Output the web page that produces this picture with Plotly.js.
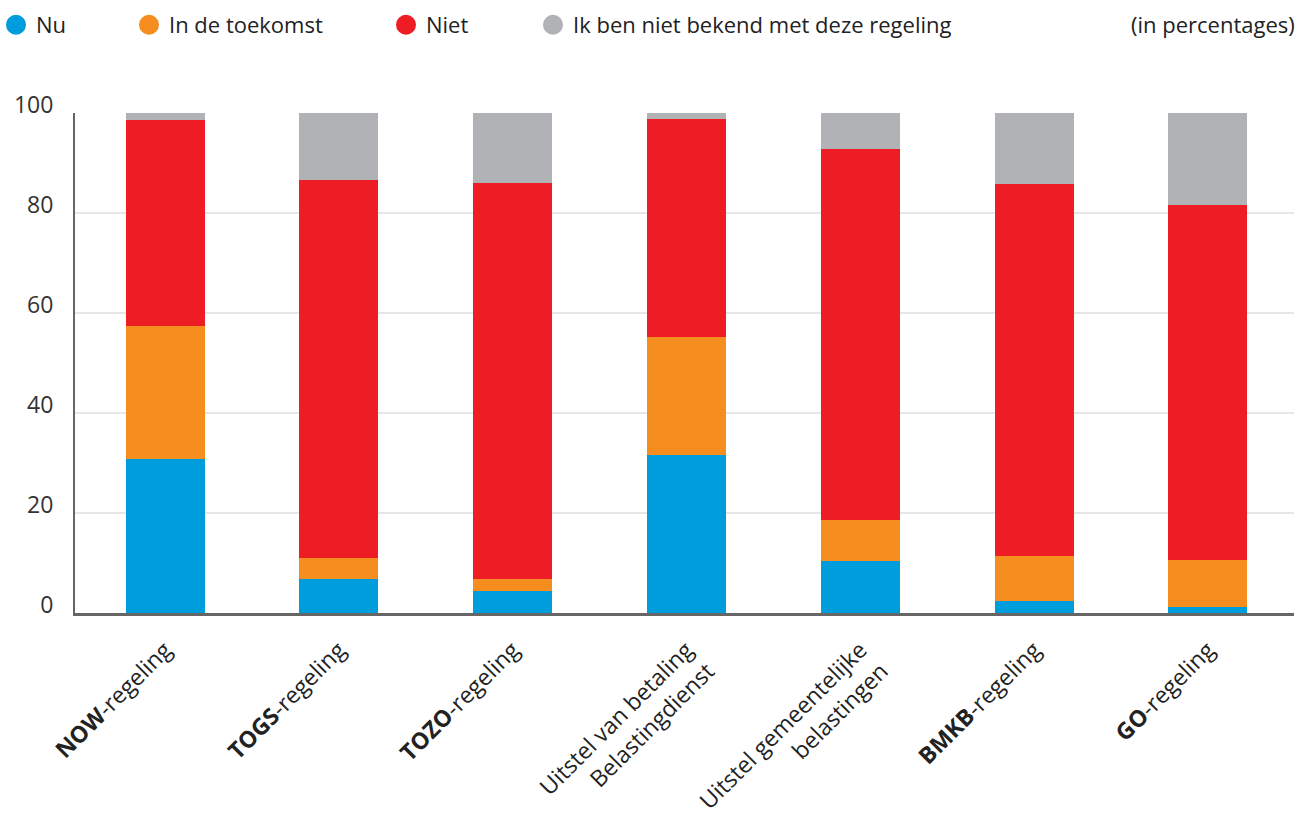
<!DOCTYPE html>
<html>
<head>
<meta charset="utf-8">
<script src="https://cdn.plot.ly/plotly-3.0.1.min.js"></script>
<style>html,body{margin:0;padding:0;background:#fff;}#chart{width:1308px;height:816px;}</style>
</head>
<body>
<div id="chart"></div>
<script>
const categories = [
  "<b>NOW</b>-regeling",
  "<b>TOGS</b>-regeling",
  "<b>TOZO</b>-regeling",
  "Uitstel van betaling<br>Belastingdienst",
  "Uitstel gemeentelijke<br>belastingen",
  "<b>BMKB</b>-regeling",
  "<b>GO</b>-regeling"
];
const nu        = [30.8, 6.8, 4.4, 31.6, 10.4, 2.4, 1.2];
const toekomst  = [26.6, 4.2, 2.4, 23.6, 8.2, 9.1, 9.4];
const niet      = [41.2, 75.6, 79.2, 43.6, 74.2, 74.3, 71.0];
const onbekend  = [1.4, 13.4, 14.0, 1.2, 7.2, 14.2, 18.4];
const seriesNames = ["Nu", "In de toekomst", "Niet", "Ik ben niet bekend met deze regeling"];
const yTicks = [0, 20, 40, 60, 80, 100];
const unitNote = "(in percentages)";

const colors = ["#009ddc", "#f68d1f", "#ee1d25", "#b1b2b5"];
const seriesVals = [nu, toekomst, niet, onbekend];
const legendIds = ["legend", "legend2", "legend3", "legend4"];

const traces = [];
seriesVals.forEach((vals, i) => {
  traces.push({
    type: "bar", x: categories, y: vals, name: seriesNames[i],
    marker: {color: colors[i], line: {width: 0}},
    showlegend: false, hoverinfo: "y+name"
  });
});
seriesVals.forEach((vals, i) => {
  traces.push({
    type: "scatter", mode: "markers", x: [null], y: [null], name: seriesNames[i],
    marker: {color: colors[i], size: 16, symbol: "circle", line: {color: colors[i], width: 4}},
    legend: legendIds[i], showlegend: true, hoverinfo: "skip"
  });
});

const W = 1308, ML = 75, MR = 14, PW = W - ML - MR;
const MT = 113, PH = 500;
function px2x(px){ return (px - ML) / PW; }
const legendY = 1 + (MT - 25) / PH;
const legendLefts = [-4, 129, 386, 533];
const legendFont = {family: "Open Sans, sans-serif", size: 22, color: "#222"};

const layout = {
  width: 1308, height: 816,
  margin: {l: ML, r: MR, t: MT, b: 203, autoexpand: false},
  paper_bgcolor: "#fff", plot_bgcolor: "#fff",
  barmode: "stack", bargap: 0.5455,
  font: {family: "Open Sans, sans-serif", size: 22, color: "#222"},
  xaxis: {
    type: "category", range: [-0.518, 6.495], tickangle: -45, showline: true, linecolor: "#666", linewidth: 2.5,
    showgrid: false, ticks: "", ticklabelstandoff: 12,
    tickfont: {family: "Open Sans, sans-serif", size: 23, color: "#222"},
    fixedrange: true
  },
  yaxis: {
    range: [0, 100], tickvals: yTicks, showline: true, linecolor: "#666", linewidth: 2,
    showgrid: true, gridcolor: "#e6e6e6", gridwidth: 1.5, zeroline: false, ticks: "",
    ticklabelstandoff: 15, ticklabelshift: -8,
    tickfont: {family: "Open Sans, sans-serif", size: 23, color: "#333"},
    fixedrange: true
  },
  annotations: [{
    text: unitNote, xref: "paper", yref: "paper",
    x: px2x(1297), y: 1 + (MT - 24) / PH, xanchor: "right", yanchor: "middle",
    showarrow: false, font: legendFont
  }]
};
legendIds.forEach((id, i) => {
  layout[id] = {
    orientation: "h", x: px2x(legendLefts[i]), y: legendY, xanchor: "left", yanchor: "middle",
    font: legendFont, bgcolor: "rgba(0,0,0,0)", borderwidth: 0, itemclick: false, itemdoubleclick: false
  };
});

Plotly.newPlot("chart", traces, layout, {displayModeBar: false, staticPlot: true});
</script>
</body>
</html>
